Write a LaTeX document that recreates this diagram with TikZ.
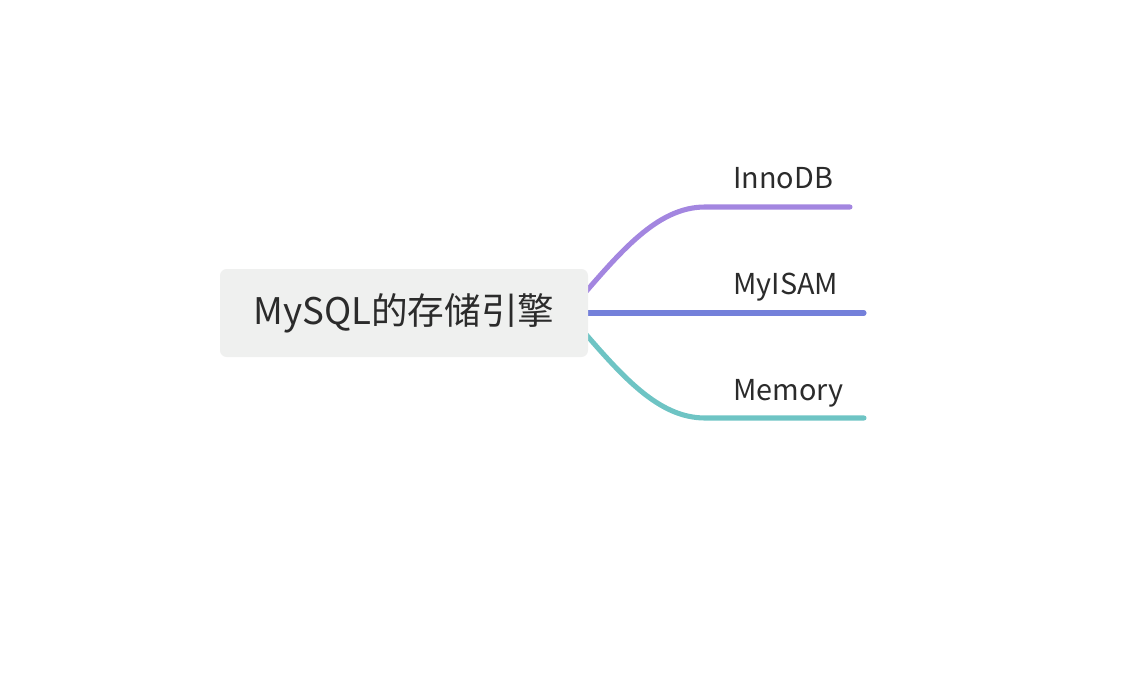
\documentclass[tikz,border=0pt]{standalone}
\usepackage{fontspec}
\setmainfont{Noto Sans CJK SC}
\usepackage{xcolor}
\usepackage{tikz}
\usetikzlibrary{positioning,calc,backgrounds}

\definecolor{innocol}{HTML}{A386E0}
\definecolor{isamcol}{HTML}{7480DA}
\definecolor{memcol}{HTML}{6EC4C4}
\definecolor{rootfill}{HTML}{EFF0EF}
\definecolor{txtcol}{HTML}{2B2B2B}

\begin{document}
\begin{tikzpicture}[x=0.75pt,y=-0.75pt,
		branch/.style={line width=3.8pt, line cap=round},
		leaf/.style={anchor=base west, inner sep=0pt, text=txtcol, font=\fontsize{21.6}{25}\selectfont},
		rootbox/.style={fill=rootfill, rounded corners=5pt, minimum width=276pt, minimum height=66pt, inner sep=0pt, text=txtcol, font=\fontsize{27.5}{32}\selectfont}]
		\useasboundingbox (0,0) rectangle (1140,674);

		\node[rootbox] (root) at (404,313) {MySQL的存储引擎};

		\node[leaf] (innodb) at (733,188) {InnoDB};
		\node[leaf] (myisam) at (733,294) {MyISAM};
		\node[leaf] (memory) at (733,400) {Memory};

		\coordinate (innodb-end) at (850,207);
		\coordinate (myisam-end) at (864,313);
		\coordinate (memory-end) at (864,418);

		\begin{scope}[on background layer]
		\draw[branch, innocol] ([shift={(-13,-9)}]root.east) .. controls +(45,-52) and +(-48,0) .. (705,207) -- (innodb-end);
		\draw[branch, isamcol] (root.center) -- (myisam-end);
		\draw[branch, memcol] ([shift={(-13,9)}]root.east) .. controls +(45,52) and +(-48,0) .. (705,418) -- (memory-end);
		\end{scope}
	\end{tikzpicture}
\end{document}
